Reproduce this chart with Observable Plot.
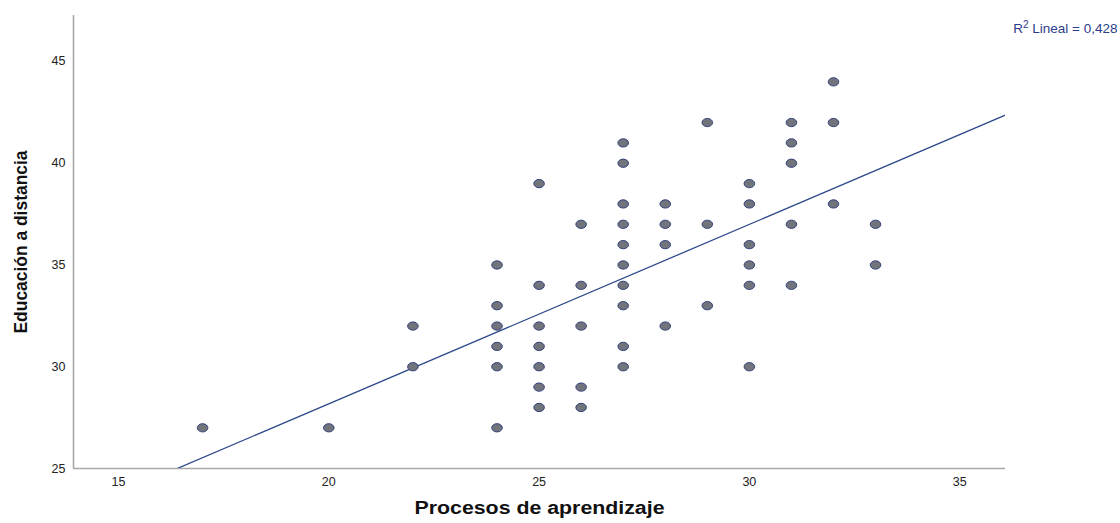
<!DOCTYPE html>
<html><head><meta charset="utf-8">
<script src="https://cdn.jsdelivr.net/npm/d3@7"></script>
<script src="https://cdn.jsdelivr.net/npm/@observablehq/plot@0.6"></script>
<style>body{margin:0;background:#fff}svg{display:block}</style>
</head><body><div id="chart"></div>
<script>
// Data
const procesos = [
  17,
  20,
  22, 22,
  24, 24, 24, 24, 24, 24,
  25, 25, 25, 25, 25, 25, 25,
  26, 26, 26, 26, 26,
  27, 27, 27, 27, 27, 27, 27, 27, 27, 27,
  28, 28, 28, 28,
  29, 29, 29,
  30, 30, 30, 30, 30, 30,
  31, 31, 31, 31, 31,
  32, 32, 32,
  33, 33
];
const educacion = [
  27,
  27,
  32, 30,
  35, 33, 32, 31, 30, 27,
  39, 34, 32, 31, 30, 29, 28,
  37, 34, 32, 29, 28,
  41, 40, 38, 37, 36, 35, 34, 33, 31, 30,
  38, 37, 36, 32,
  42, 37, 33,
  39, 38, 36, 35, 34, 30,
  42, 41, 40, 37, 34,
  44, 42, 38,
  37, 35
];
const xTicks = [15, 20, 25, 30, 35];
const yTicks = [25, 30, 35, 40, 45];
const xDomain = [13.93, 36.09];
const yDomain = [25, 47.26];
const r2Label = "R2 Lineal = 0,428";
const xTitle = "Procesos de aprendizaje";
const yTitle = "Educación a distancia";

const data = procesos.map((x, i) => ({x, y: educacion[i]}));
const mx = d3.mean(procesos), my = d3.mean(educacion);
const slope = d3.sum(data, d => (d.x - mx) * (d.y - my)) / d3.sum(data, d => (d.x - mx) ** 2);
const intercept = my - slope * mx;
const fit = xDomain.map(x => ({x, y: intercept + slope * x}));

const ellipse = {
  draw(context, size) {
    const r = Math.sqrt(size / Math.PI);
    const rx = r * 1.15, ry = r * 0.9, k = 0.5523;
    context.moveTo(rx, 0);
    context.bezierCurveTo(rx, k * ry, k * rx, ry, 0, ry);
    context.bezierCurveTo(-k * rx, ry, -rx, k * ry, -rx, 0);
    context.bezierCurveTo(-rx, -k * ry, -k * rx, -ry, 0, -ry);
    context.bezierCurveTo(k * rx, -ry, rx, -k * ry, rx, 0);
    context.closePath();
  }
};

const chart = Plot.plot({
  width: 1120,
  height: 523,
  marginLeft: 73,
  marginRight: 115,
  marginTop: 15,
  marginBottom: 55,
  x: {domain: xDomain},
  y: {domain: yDomain},
  style: {fontFamily: "'Liberation Sans', Arial, sans-serif", background: "#fff", color: "#222"},
  marks: [
    Plot.axisX({ticks: xTicks, tickSize: 0, tickPadding: 9, fontSize: 12.5, label: null}),
    Plot.axisY({ticks: yTicks, tickSize: 0, tickPadding: 8, fontSize: 12.5, label: null}),
    Plot.ruleY([yDomain[0]], {stroke: "#a8a8a8", strokeWidth: 1.6}),
    Plot.ruleX([xDomain[0]], {stroke: "#a8a8a8", strokeWidth: 1.6}),
    Plot.line(fit, {x: "x", y: "y", stroke: "#2f4a8c", strokeWidth: 1.3, clip: true}),
    Plot.dot(data, {x: "x", y: "y", r: 4.6, symbol: ellipse, fill: "#72747c", stroke: "#34437e", strokeWidth: 1}),
    Plot.text([r2Label], {text: d => d, frameAnchor: "top-right", dx: 112, dy: 8, textAnchor: "end", fill: "#2b3d8a", fontSize: 13.5}),
    Plot.text([xTitle], {text: d => d, frameAnchor: "bottom", dy: 45, textAnchor: "middle", fontSize: 18, fontWeight: "bold", fill: "#111"}),
    Plot.text([yTitle], {text: d => d, frameAnchor: "left", dx: -53, rotate: -90, textAnchor: "middle", fontSize: 19, fontWeight: "bold", fill: "#111"})
  ]
});
document.getElementById("chart").appendChild(chart);
chart.querySelectorAll("text").forEach(t => {
  if (t.textContent === xTitle) { t.setAttribute("textLength", 250); t.setAttribute("lengthAdjust", "spacingAndGlyphs"); }
  if (t.textContent === yTitle) { t.setAttribute("textLength", 183); t.setAttribute("lengthAdjust", "spacingAndGlyphs"); }
  if (t.textContent === r2Label) {
    const ns = "http://www.w3.org/2000/svg";
    const parts = [["R", null], ["2", "sup"], [" Lineal = 0,428", null]];
    t.textContent = "";
    parts.forEach(([s, kind]) => {
      const sp = document.createElementNS(ns, "tspan");
      sp.textContent = s;
      if (kind === "sup") { sp.setAttribute("font-size", "10"); sp.setAttribute("baseline-shift", "super"); }
      t.appendChild(sp);
    });
  }
});
</script>
</body></html>
